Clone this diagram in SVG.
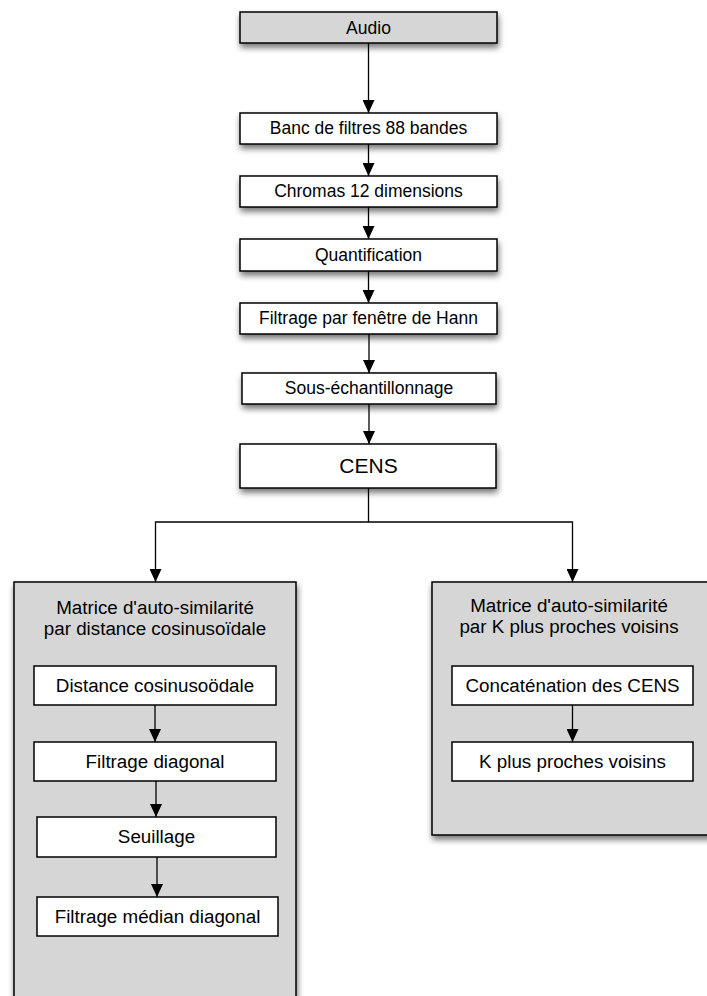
<svg xmlns="http://www.w3.org/2000/svg" width="707" height="996" viewBox="0 0 707 996">
<style>
.box{fill:#fff;stroke:#000;stroke-width:1.5}
.gray{fill:#d6d6d6;stroke:#000;stroke-width:1.5}
.sh{filter:url(#shadow)}
.t{font-family:"Liberation Sans",Helvetica,Arial,sans-serif;font-size:17.5px;fill:#000;text-anchor:middle}
.t2{font-family:"Liberation Sans",Helvetica,Arial,sans-serif;font-size:18.8px;fill:#000;text-anchor:middle}
.t3{font-family:"Liberation Sans",Helvetica,Arial,sans-serif;font-size:21px;fill:#000;text-anchor:middle}
.c{fill:none;stroke:#000;stroke-width:1.3}
</style>
<defs>
<filter id="shadow" x="-20%" y="-20%" width="150%" height="160%">
<feGaussianBlur in="SourceAlpha" stdDeviation="3"/>
<feOffset dx="1" dy="4" result="b"/>
<feComponentTransfer><feFuncA type="linear" slope="0.55"/></feComponentTransfer>
<feMerge><feMergeNode/><feMergeNode in="SourceGraphic"/></feMerge>
</filter>
<marker id="arr" viewBox="0 0 13 12" refX="13" refY="6" markerWidth="13" markerHeight="12" markerUnits="userSpaceOnUse" orient="auto">
<path d="M0,0 L13,6 L0,12 Z" fill="#000"/>
</marker>
</defs>
<g id="left-group"><rect class="gray sh" x="14" y="582" width="282" height="440"/>
<text class="t2" x="155" y="614">Matrice d'auto-similarité</text>
<text class="t2" x="155" y="634.5">par distance cosinusoïdale</text></g>
<g id="right-group"><rect class="gray sh" x="432" y="582" width="282" height="253"/>
<text class="t2" x="569" y="611.5">Matrice d'auto-similarité</text>
<text class="t2" x="569" y="632.5">par K plus proches voisins</text></g>
<g id="audio"><rect class="gray sh" x="240" y="12" width="257" height="31"/><text class="t" x="368.5" y="33.5">Audio</text></g>
<g id="banc"><rect class="box sh" x="240" y="113" width="257" height="31"/><text class="t" x="368.5" y="134">Banc de filtres 88 bandes</text></g>
<g id="chromas"><rect class="box sh" x="240" y="176" width="257" height="31"/><text class="t" x="368.5" y="197">Chromas 12 dimensions</text></g>
<g id="quant"><rect class="box sh" x="240" y="239" width="257" height="32"/><text class="t" x="368.5" y="260.5">Quantification</text></g>
<g id="hann"><rect class="box sh" x="240" y="303" width="257" height="31"/><text class="t" x="368.5" y="324">Filtrage par fenêtre de Hann</text></g>
<g id="sous"><rect class="box sh" x="242" y="373" width="254" height="31"/><text class="t" x="369" y="394">Sous-échantillonnage</text></g>
<g id="cens"><rect class="box sh" x="240" y="444" width="256" height="44"/><text class="t3" x="368.5" y="473">CENS</text></g>
<g id="distance"><rect class="box" x="34" y="666" width="242" height="39"/><text class="t2" x="155" y="691.5">Distance cosinusoödale</text></g>
<g id="filtdiag"><rect class="box" x="34" y="742" width="242" height="39"/><text class="t2" x="155" y="767.5">Filtrage diagonal</text></g>
<g id="seuil"><rect class="box" x="37" y="817" width="239" height="40"/><text class="t2" x="156.5" y="843">Seuillage</text></g>
<g id="median"><rect class="box" x="37" y="897" width="241" height="39"/><text class="t2" x="157.5" y="922.5">Filtrage médian diagonal</text></g>
<g id="concat"><rect class="box" x="452" y="666" width="241" height="39"/><text class="t2" x="572.5" y="691.5">Concaténation des CENS</text></g>
<g id="kplus"><rect class="box" x="452" y="742" width="241" height="39"/><text class="t2" x="572.5" y="767.5">K plus proches voisins</text></g>
<g id="connectors">
<path class="c" marker-end="url(#arr)" d="M368.5,43 V113"/>
<path class="c" marker-end="url(#arr)" d="M368.5,144 V176"/>
<path class="c" marker-end="url(#arr)" d="M368.5,207 V239"/>
<path class="c" marker-end="url(#arr)" d="M368.5,271 V303"/>
<path class="c" marker-end="url(#arr)" d="M369,334 V373"/>
<path class="c" marker-end="url(#arr)" d="M369,404 V444"/>
<path class="c" marker-end="url(#arr)" d="M368.5,488 V522 H155.5 V582"/>
<path class="c" marker-end="url(#arr)" d="M368.5,522 H572.5 V582"/>
<path class="c" marker-end="url(#arr)" d="M155,705 V742"/>
<path class="c" marker-end="url(#arr)" d="M156,781 V817"/>
<path class="c" marker-end="url(#arr)" d="M157,857 V897"/>
<path class="c" marker-end="url(#arr)" d="M572.5,705 V742"/>
</g>
</svg>
